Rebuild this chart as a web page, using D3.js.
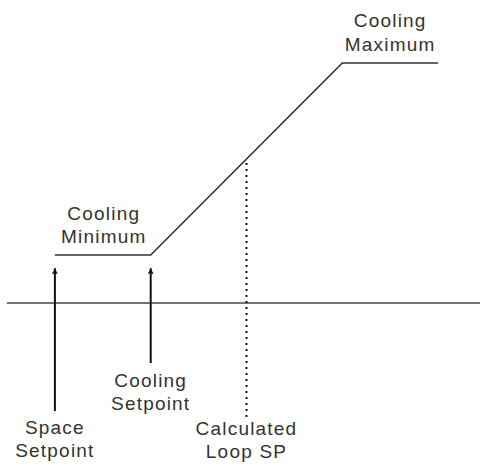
<!DOCTYPE html>
<html><head><meta charset="utf-8">
<script src="https://cdn.jsdelivr.net/npm/d3@7"></script>
<style>
html,body{margin:0;padding:0;background:#fff;}
svg{display:block;}
text{font-family:"Liberation Sans",Arial,sans-serif;font-size:19px;fill:#333;letter-spacing:1.2px;}
</style></head>
<body>
<svg id="chart" width="480" height="464"></svg>
<script>
// Reset curve (x: space temperature position, y: output)
const curveX = [10, 30, 70, 90];
const curveY = [20, 20, 100, 100];
// Reference points along the x axis
const markerNames = ["Space Setpoint", "Cooling Setpoint", "Calculated Loop SP"];
const markerX = [10, 30, 50];
const markerFrom = [-45, -25, -47.5];
const markerTo = [14.5, 14.5, 60];
const markerKind = ["arrow", "arrow", "dotted"];
// Text labels
const labelLines = [["Cooling", "Maximum"], ["Cooling", "Minimum"], ["Space", "Setpoint"], ["Cooling", "Setpoint"], ["Calculated", "Loop SP"]];
const labelX = [80, 20.2, 10, 30, 50];
const labelY = [100, 20, -45, -25, -47.5];

const svg = d3.select("#chart");
const x = d3.scaleLinear().domain([0, 100]).range([7, 486]);
const y = d3.scaleLinear().domain([0, 100]).range([303, 63]);

svg.append("defs").append("marker")
  .attr("id", "ah").attr("viewBox", "0 0 10 10").attr("refX", 10).attr("refY", 5)
  .attr("markerUnits", "userSpaceOnUse").attr("markerWidth", 10).attr("markerHeight", 6)
  .attr("orient", "auto")
  .append("path").attr("d", "M0,0 L10,5 L0,10 L2,5 Z").attr("fill", "#111");

// baseline axis
svg.append("line").attr("x1", 7).attr("x2", 480).attr("y1", y(0)).attr("y2", y(0))
  .attr("stroke", "#444").attr("stroke-width", 1.6);

// curve
const pts = curveX.map((d, i) => [x(d), y(curveY[i])]);
svg.append("path").attr("d", d3.line()(pts)).attr("fill", "none")
  .attr("stroke", "#333").attr("stroke-width", 1.6);

// markers
markerX.forEach((mx, i) => {
  const ln = svg.append("line").attr("x1", x(mx)).attr("x2", x(mx))
    .attr("y1", y(markerFrom[i])).attr("y2", y(markerTo[i]))
    .attr("stroke", "#111").attr("stroke-width", 2);
  if (markerKind[i] === "arrow") ln.attr("marker-end", "url(#ah)");
  else ln.attr("stroke-dasharray", "2,4");
});

// labels
const offsets = [[-36, -12], [-35, -12], [23, 46], [24, 47], [18, 41]];
labelLines.forEach((lines, i) => {
  const t = svg.append("text").attr("text-anchor", "middle");
  lines.forEach((s, j) => {
    t.append("tspan").attr("x", x(labelX[i]))
      .attr("y", y(labelY[i]) + offsets[i][j]).text(s);
  });
});
</script>
</body></html>
